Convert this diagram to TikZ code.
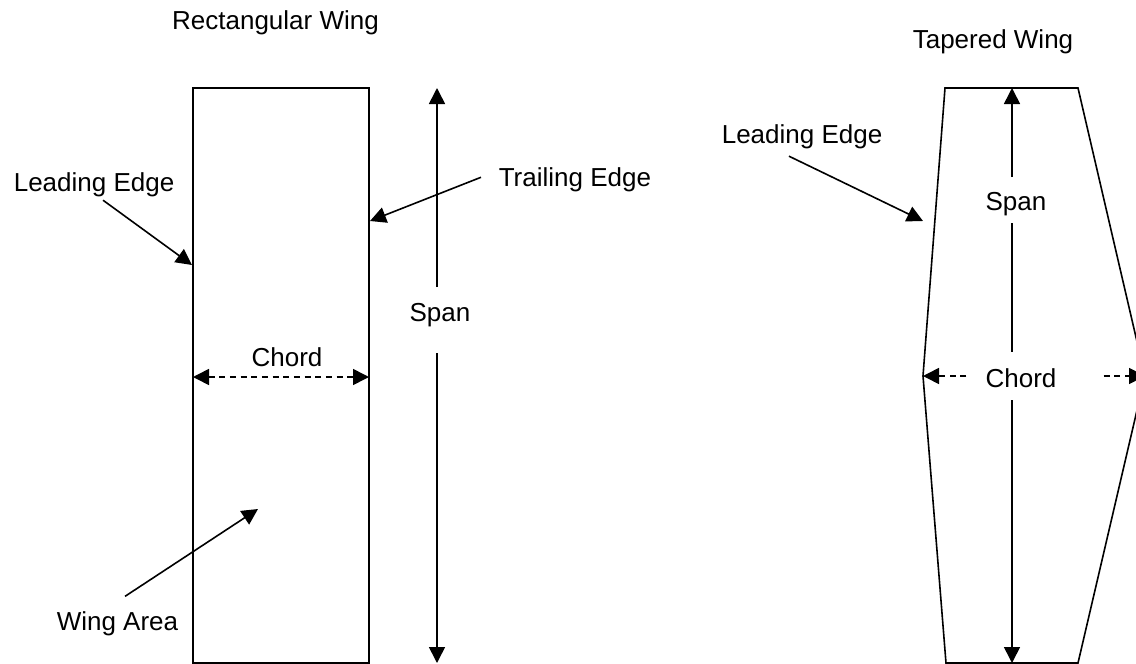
\documentclass[tikz,border=0pt]{standalone}
\usepackage{fontspec}
\setmainfont{Liberation Sans}
\usetikzlibrary{arrows.meta,calc}
\begin{document}
\begin{tikzpicture}[x=0.75pt,y=-0.75pt,
  line width=1.2pt,
  lbl/.style={inner sep=0pt, font=\fontsize{19.5}{22}\selectfont},
  arr/.style={-{Triangle[length=12pt,width=12pt]}},
  darr/.style={{Triangle[length=12pt,width=12pt]}-{Triangle[length=12pt,width=12pt]}},
  dimline/.style={dash pattern=on 4.5pt off 3.5pt},
  outline/.style={line width=1.2pt, line join=miter}]
\useasboundingbox (0,0) rectangle (1136,664);
\clip (0,0) rectangle (1136,664);

% ---------- rectangular wing ----------
\node[lbl, anchor=base] (rtitle) at (275.5,29.3) {Rectangular Wing};
\draw[outline] (193,88) rectangle (369,663);

\coordinate (rsTop) at (437,88);
\coordinate (rsBot) at (437,663);
\node[lbl, anchor=base] (rspan) at (440,321) {Span};
\draw[arr] ($(rspan.north -| rsTop)+(0,-15)$) -- (rsTop);
\draw[arr] ($(rspan.south -| rsBot)+(0,26)$) -- (rsBot);

\coordinate (rcL) at (193,377);
\coordinate (rcR) at (369,377);
\node[lbl, anchor=base] (rchord) at (287,366) {Chord};
\draw[dimline, darr] (rcL) -- (rcR);

\node[lbl, anchor=base west] (le1) at (13,191) {Leading Edge};
\coordinate (le1tip) at (192,265);
\draw[arr] ($(le1.south west)+(90,3)$) -- (le1tip);

\node[lbl, anchor=base west] (te) at (498,186) {Trailing Edge};
\coordinate (tetip) at (370,221);
\draw[arr] ($(te.west)+(-17,-2)$) -- (tetip);

\node[lbl, anchor=base west] (wa) at (56,630) {Wing Area};
\coordinate (watip) at (258,509);
\draw[arr] ($(wa.north west)+(69,-14)$) -- (watip);

% ---------- tapered wing ----------
\node[lbl, anchor=base] (ttitle) at (993,48.3) {Tapered Wing};
\draw[outline] (945,88) -- (1078,88) -- (1145,376) -- (1078,663)
  -- (946,663) -- (923,376) -- cycle;

\coordinate (tsTop) at (1012,88);
\coordinate (tsBot) at (1012,663);
\node[lbl, anchor=base] (tspan) at (1016,210) {Span};
\node[lbl, anchor=base] (tchord) at (1021,387) {Chord};
\draw[arr] ($(tspan.north -| tsTop)+(0,-14)$) -- (tsTop);
\draw ($(tspan.south -| tsTop)+(0,7)$) -- ($(tchord.north -| tsTop)+(0,-15.5)$);
\draw[arr] ($(tchord.south -| tsBot)+(0,12)$) -- (tsBot);

\coordinate (tcL) at (923,376);
\coordinate (tcR) at (1145,376);
\draw[dimline, arr] ($(tchord.west |- tcL)+(-18.5,0)$) -- (tcL);
\draw[dimline, arr] ($(tchord.east |- tcR)+(46.5,0)$) -- (tcR);

\node[lbl, anchor=base west] (le2) at (721,143) {Leading Edge};
\coordinate (le2tip) at (923,221);
\draw[arr] ($(le2.south west)+(68,7)$) -- (le2tip);
\end{tikzpicture}
\end{document}
